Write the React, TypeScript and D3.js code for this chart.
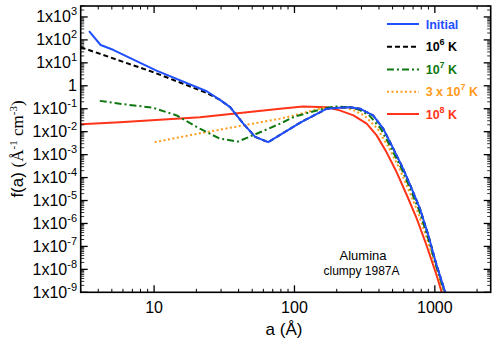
import * as d3 from 'd3';

// --- data (a in Å, f(a) in Å^-1 cm^-3)
const initialA = [3.44, 4.16, 5.1, 10.4, 23.7, 29.3, 34.8, 43.2, 52.5, 65, 110, 170, 210, 248, 293, 363, 429, 506, 594, 684, 783, 897, 1029, 1181, 1195];
const initialF = [240, 60, 37, 4.6, 0.58, 0.25, 0.117, 0.0224, 0.0059, 0.0035, 0.025, 0.1, 0.11, 0.117, 0.1, 0.0513, 0.0135, 0.00182, 2.45e-4, 3.31e-5, 4.47e-6, 3.16e-7, 1.55e-8, 1.07e-9, 8e-10];

const k6A = [3.0, 10, 22.9, 29.3, 34.8, 43.2, 52.5, 65, 110, 170, 210, 248, 293, 363, 429, 506, 594, 684, 783, 897, 1029, 1181, 1195];
const k6F = [48, 3.8, 0.53, 0.25, 0.117, 0.0224, 0.0059, 0.0035, 0.025, 0.1, 0.11, 0.117, 0.1, 0.0513, 0.0135, 0.00182, 2.45e-4, 3.31e-5, 4.47e-6, 3.16e-7, 1.55e-8, 1.07e-9, 8e-10];

const k7A = [4.1, 5.7, 9.84, 14.5, 21.2, 29.3, 39.6, 53.7, 79, 100, 129, 170, 200, 248, 290, 341, 412, 491, 579, 666, 764, 881, 1018, 1166, 1180];
const k7F = [0.22, 0.165, 0.11, 0.051, 0.0135, 0.005, 0.0037, 0.0081, 0.0224, 0.045, 0.07, 0.11, 0.124, 0.115, 0.09, 0.0513, 0.0135, 0.00182, 2.45e-4, 3.31e-5, 4.47e-6, 3.16e-7, 1.55e-8, 1.07e-9, 8e-10];

const k30A = [10.1, 21.2, 79, 110, 150, 190, 228, 265, 314, 391, 474, 560, 644, 741, 862, 1005, 1151, 1165];
const k30F = [0.0035, 0.0085, 0.037, 0.06, 0.1, 0.12, 0.112, 0.085, 0.0513, 0.0135, 0.00182, 2.45e-4, 3.31e-5, 4.47e-6, 3.16e-7, 1.55e-8, 1.07e-9, 8e-10];

const k100A = [3.0, 5.7, 21.2, 79, 115, 170, 210, 263, 327, 385, 452, 534, 632, 742, 871, 1029, 1116, 1130];
const k100F = [0.021, 0.026, 0.043, 0.1, 0.125, 0.117, 0.085, 0.0513, 0.0224, 0.0069, 0.00129, 1.74e-4, 1.7e-5, 1.66e-6, 1.15e-7, 5.6e-9, 1.07e-9, 8e-10];

const seriesNames = ['Initial', '10^6 K', '10^7 K', '3 x 10^7 K', '10^8 K'];
const seriesColors = ['#1f4fff', '#000000', '#107810', '#ff9a1a', '#ff3418'];
const seriesDash = [null, '5,3', '7,3,2,3', '2,2.5', null];

const xTicks = [10, 100, 1000];
const yExps = [3, 2, 1, 0, -1, -2, -3, -4, -5, -6, -7, -8, -9];

const W = 498;
const H = 351;
const L = 80.7, R = 490.7, T = 6, B = 292.3;

export default function App() {
  const x = d3.scaleLog().domain([3, 2500]).range([L, R]);
  const y = d3.scaleLog().domain([1e-9, 3000]).range([B, T]);

  const seriesA = [initialA, k6A, k7A, k30A, k100A];
  const seriesF = [initialF, k6F, k7F, k30F, k100F];

  const line = d3.line<[number, number]>()
    .x(d => x(d[0]))
    .y(d => y(d[1]));

  // minor ticks
  const xMinor: number[] = [];
  for (let e = 0; e <= 3; e++) {
    for (let m = 2; m < 10; m++) {
      const v = m * Math.pow(10, e);
      if (v >= 3 && v <= 2500) xMinor.push(v);
    }
  }
  const yMinor: number[] = [];
  for (let e = -9; e <= 3; e++) {
    for (let m = 2; m < 10; m++) {
      const v = m * Math.pow(10, e);
      if (v <= 3000) yMinor.push(v);
    }
  }

  const sans = 'Liberation Sans, Arial, Helvetica, sans-serif';
  const serif = 'Liberation Serif, Times New Roman, serif';

  const legendX1 = 387, legendX2 = 419, legendTx = 425.7;
  const legendY = [24, 46.7, 69.4, 91.7, 114];

  const legendLabel = (name: string) => {
    const parts = name.split('^');
    if (parts.length === 1) return name;
    const pre = parts[0];
    const rest = parts[1];
    const sup = rest.split(' ')[0];
    const post = rest.slice(sup.length);
    return (
      <>
        {pre}
        <tspan dy={-6} fontSize={9}>{sup}</tspan>
        <tspan dy={6}>{post}</tspan>
      </>
    );
  };

  return (
    <svg width={W} height={H} style={{ position: 'absolute', left: 0, top: 0, background: '#fff' }}>
      <defs>
        <clipPath id="plotClip">
          <rect x={L} y={T} width={R - L} height={B - T} />
        </clipPath>
      </defs>

      {/* series, drawn so the initial curve sits on top */}
      <g clipPath="url(#plotClip)">
        {seriesA.map((as, i) => {
          const pts = as.map((a, j) => [a, seriesF[i][j]] as [number, number]);
          return (
            <path
              key={i}
              d={line(pts) || ''}
              fill="none"
              stroke={seriesColors[i]}
              strokeWidth={2}
              strokeLinejoin="round"
              strokeDasharray={seriesDash[i] || undefined}
            />
          );
        }).reverse()}
      </g>

      {/* frame */}
      <rect x={L} y={T} width={R - L} height={B - T} fill="none" stroke="#000" strokeWidth={1.6} />

      {/* x ticks */}
      {xTicks.map(v => (
        <g key={'xt' + v}>
          <line x1={x(v)} x2={x(v)} y1={B} y2={B - 7} stroke="#000" strokeWidth={1.3} />
          <line x1={x(v)} x2={x(v)} y1={T} y2={T + 7} stroke="#000" strokeWidth={1.3} />
          <text x={x(v)} y={313} textAnchor="middle" fontFamily={sans} fontSize={16}>{v}</text>
        </g>
      ))}
      {xMinor.map(v => (
        <g key={'xm' + v}>
          <line x1={x(v)} x2={x(v)} y1={B} y2={B - 3.5} stroke="#000" strokeWidth={1} />
          <line x1={x(v)} x2={x(v)} y1={T} y2={T + 3.5} stroke="#000" strokeWidth={1} />
        </g>
      ))}

      {/* y ticks */}
      {yExps.map(e => {
        const yy = y(Math.pow(10, e));
        return (
          <g key={'yt' + e}>
            <line x1={L} x2={L + 7} y1={yy} y2={yy} stroke="#000" strokeWidth={1.3} />
            <line x1={R} x2={R - 7} y1={yy} y2={yy} stroke="#000" strokeWidth={1.3} />
            <text x={77} y={yy + 5.5} textAnchor="end" fontFamily={sans} fontSize={16}>
              {e === 0 ? '1' : (
                <>
                  1x10
                  <tspan dy={-7} fontSize={11}>{e}</tspan>
                </>
              )}
            </text>
          </g>
        );
      })}
      {yMinor.map(v => (
        <g key={'ym' + v}>
          <line x1={L} x2={L + 3.5} y1={y(v)} y2={y(v)} stroke="#000" strokeWidth={0.8} />
          <line x1={R} x2={R - 3.5} y1={y(v)} y2={y(v)} stroke="#000" strokeWidth={0.8} />
        </g>
      ))}

      {/* axis titles */}
      <text x={284} y={335} textAnchor="middle" fontFamily={sans} fontSize={17}>a (Å)</text>
      <text transform="translate(23,149) rotate(-90)" textAnchor="middle" fontSize={17}>
        <tspan fontFamily={sans}>f(a) </tspan>
        <tspan fontFamily={serif}>(Å</tspan>
        <tspan fontFamily={serif} dy={-6} fontSize={11}>-1</tspan>
        <tspan fontFamily={serif} dy={6}> cm</tspan>
        <tspan fontFamily={serif} dy={-6} fontSize={11}>-3</tspan>
        <tspan fontFamily={serif} dy={6}>)</tspan>
      </text>

      {/* legend */}
      {seriesNames.map((name, i) => (
        <g key={'lg' + i}>
          <line
            x1={legendX1}
            x2={legendX2}
            y1={legendY[i]}
            y2={legendY[i]}
            stroke={seriesColors[i]}
            strokeWidth={2}
            strokeDasharray={seriesDash[i] || undefined}
          />
          <text x={legendTx} y={legendY[i] + 4.5} fontFamily={sans} fontWeight="bold" fontSize={12.5} fill={seriesColors[i]}>
            {legendLabel(name)}
          </text>
        </g>
      ))}

      {/* annotation */}
      <text x={363} y={260} textAnchor="middle" fontFamily={sans} fontSize={13}>Alumina</text>
      <text x={361.5} y={275} textAnchor="middle" fontFamily={sans} fontSize={12}>clumpy 1987A</text>
    </svg>
  );
}
